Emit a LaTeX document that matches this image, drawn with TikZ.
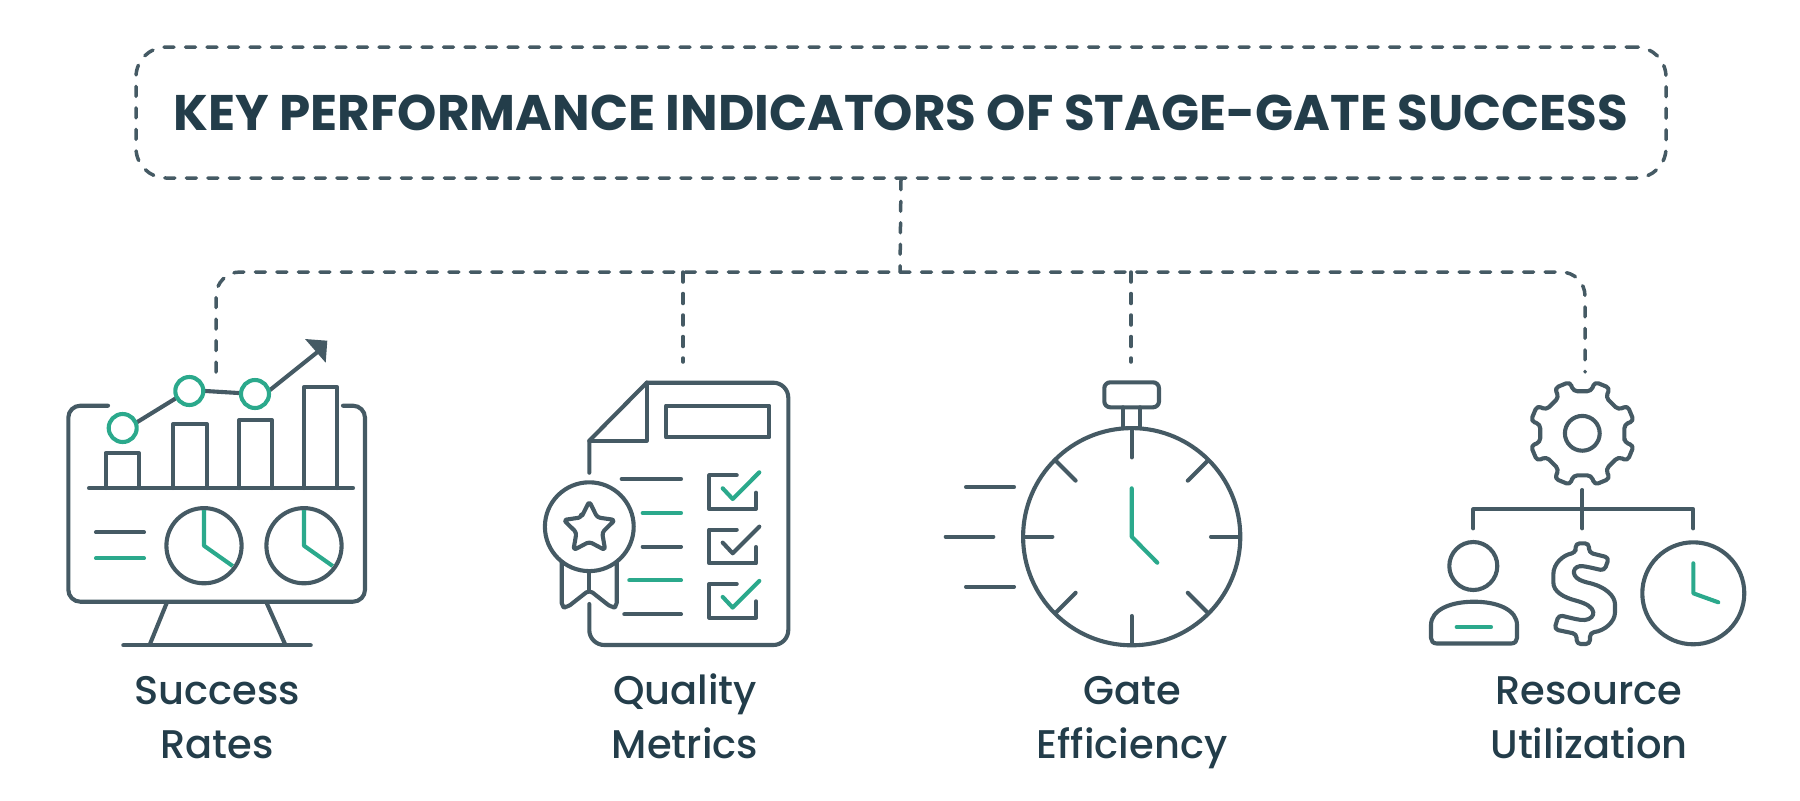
\documentclass[tikz,border=0pt]{standalone}
\usepackage{fontspec}
\setmainfont{Poppins}
\newfontfamily\kpimedium{Poppins}[UprightFont=* Medium]
\definecolor{kpiline}{HTML}{455A64}
\definecolor{kpitext}{HTML}{233D4A}
\definecolor{kpigreen}{HTML}{2BA98C}
\tikzset{
  iconline/.style={draw=kpiline, line width=2.05pt, line cap=round, line join=round},
  iconaccent/.style={draw=kpigreen, line width=2.05pt, line cap=round, line join=round},
  kpidash/.style={draw=kpiline, line width=1.75pt, line cap=round, dash pattern=on 5pt off 5.75pt},
  kpilabel/.style={text=kpitext, font=\kpimedium\fontsize{20}{27}\selectfont, align=center},
}

\begin{document}
\begin{tikzpicture}[x=0.5pt, y=-0.5pt]
    \useasboundingbox (0,0) rectangle (1800,800);
    \node[kpidash, rounded corners=15pt, minimum width=765pt, minimum height=65.5pt, text=kpitext,
        font=\bfseries\fontsize{25}{30}\selectfont] (kpibox) at (901,112.5) {KEY PERFORMANCE INDICATORS OF STAGE-GATE SUCCESS};
    \coordinate (hub) at (900,272);
    \coordinate (ratesend) at (216,372);
    \coordinate (qualityend) at (683,362);
    \coordinate (gateend) at (1131,362);
    \coordinate (resourceend) at (1585,372);
    \draw[kpidash] (kpibox.south) -- (hub);
    \draw[kpidash, rounded corners=12pt] (ratesend) |- (hub);
    \draw[kpidash, rounded corners=12pt] (hub) -| (resourceend);
    \draw[kpidash] (hub -| qualityend) -- (qualityend);
    \draw[kpidash] (hub -| gateend) -- (gateend);

    \draw[iconline, rounded corners=6pt] (108,405.7) -- (68.3,405.7) -- (68.3,601.7) -- (365,601.7) -- (365,405.7) -- (343,405.7);
    \draw[iconline] (89,488) -- (353,488);
    \draw[iconline] (105.7,488) -- (105.7,453) -- (139,453) -- (139,488);
    \draw[iconline] (173.3,488) -- (173.3,424) -- (206.7,424) -- (206.7,488);
    \draw[iconline] (239,488) -- (239,420) -- (271.7,420) -- (271.7,488);
    \draw[iconline] (304.3,488) -- (304.3,386.7) -- (336.7,386.7) -- (336.7,488);
    \draw[iconline] (122.7,431) -- (189.3,390) -- (255,394);
    \draw[iconline] (255,402) -- (320,350);
    \fill[kpiline] (305,339) -- (327.3,340.7) -- (325.7,362.7) -- cycle;
    \foreach \cx/\cy in {122.7/428, 189.3/391, 255/394}{
        \draw[iconaccent, fill=white] (\cx,\cy) circle[radius=7pt];
    }
    \foreach \cx in {204,304}{
        \draw[iconline] (\cx,545.7) circle[radius=18.8pt];
        \draw[iconaccent, line cap=butt] (\cx,510) -- (\cx,545.7) -- (\cx+28.7,566);
    }
    \draw[iconline] (96,532.3) -- (144,532.3);
    \draw[iconaccent] (96,558.3) -- (144,558.3);
    \draw[iconline] (166.7,603) -- (150,644);
    \draw[iconline] (266.7,603) -- (285,644);
    \draw[iconline] (123.3,645.3) -- (310.7,645.3);

    \draw[iconline] (589.3,472.7) -- (589.3,440.7) -- (646.7,382.7);
    \draw[iconline, rounded corners=7.5pt] (646.7,382.7) -- (788.3,382.7) -- (788.3,645) -- (589.3,645) -- (589.3,604);
    \draw[iconline] (646.7,382.7) -- (646.7,440.7) -- (589.3,440.7);
    \draw[iconline] (666,405.7) rectangle (769.3,437.3);
    \foreach \lx/\ly/\lstyle in {621.7/479/iconline, 642.7/513/iconaccent, 642.7/546.7/iconline, 629.3/580.3/iconaccent, 624.3/614.3/iconline}{
        \draw[\lstyle] (\lx,\ly) -- (681,\ly);
    }
    \foreach \by/\bstyle in {0/iconaccent, 54.3/iconline, 108.6/iconaccent}{
        \begin{scope}[shift={(0,\by)}]
            \draw[iconline] (736.7,475.3) -- (709.3,475.3) -- (709.3,509) -- (756,509) -- (756,492.7);
            \draw[\bstyle] (722.7,488.3) -- (732.7,499) -- (759.3,472.3);
        \end{scope}
    }
    \draw[iconline] (589.3,526.7) circle[radius=22.2pt];
    \draw[iconline, rounded corners=2pt] (561.7,561.7) -- (561.7,607) -- (567,607.5) -- (589.3,590) -- (611.5,607.5) -- (616.7,607) -- (616.7,561.7);
    \draw[iconline] (589.3,571.7) -- (589.3,590);
    \begin{scope}[shift={(589.3,528.3)}]
        \draw[iconline, rounded corners=1.5pt] (-126:13.5) \foreach \a in {0,72,...,288}{ -- (\a-90:27) -- (\a-54:13.5)} -- cycle;
    \end{scope}

    \begin{scope}[shift={(1131.7,536.7)}]
        \draw[iconline] (0,0) circle[radius=54.3pt];
        \foreach \a in {0,45,...,315}{
            \draw[iconline] (\a:108) -- (\a:79.3);
        }
        \draw[iconaccent] (0,-48.4) -- (0,0) -- (25.6,26);
    \end{scope}
    \draw[iconline] (966,487) -- (1014,487);
    \draw[iconline] (945.7,536.7) -- (993.3,536.7);
    \draw[iconline] (966,586.7) -- (1014,586.7);
    \draw[iconline, rounded corners=3pt] (1104.3,382.3) rectangle (1159,407.3);
    \draw[iconline] (1122.7,407.3) -- (1122.7,428);
    \draw[iconline] (1140.3,407.3) -- (1140.3,428);

    \begin{scope}[shift={(1582.3,433.3)}]
        \draw[iconline] (0,0) circle[radius=8.7pt];
        \draw[iconline, rounded corners=2pt] (12:43) \foreach \a in {22.5,67.5,...,337.5}{ -- (\a-10.5:43) -- (\a-9:53) -- (\a+9:53) -- (\a+10.5:43)} -- cycle;
    \end{scope}
    \draw[iconline] (1582.3,490) -- (1582.3,528.3);
    \draw[iconline] (1473.3,528.3) -- (1473.3,509.3) -- (1693.3,509.3) -- (1693.3,528.3);
    \draw[iconline] (1473.3,566) circle[radius=12pt];
    \draw[iconline] (1437,643.5) .. controls (1433,643.5) and (1431,641) .. (1431,638) -- (1431,625) .. controls (1431,610) and (1450,601.7) .. (1474,601.7) .. controls (1498,601.7) and (1517,610) .. (1517,625) -- (1517,638) .. controls (1517,641) and (1515,643.5) .. (1511,643.5) -- cycle;
    \draw[iconaccent] (1456.7,627) -- (1491,627);
    \begin{scope}[shift={(1410,360)}, scale=1/3]
        \draw[iconline, rounded corners=2pt] (497,578) -- (497,550) -- (537,550) -- (537,578) -- (597,593) -- (583,632) -- (530,620)
            .. controls (490,615) and (480,645) .. (520,665)
            .. controls (590,680) and (615,710) .. (615,745)
            .. controls (615,785) and (585,812) .. (540,818)
            -- (540,852) -- (500,852) -- (500,822) -- (433,808) -- (446,765) -- (500,778)
            .. controls (550,785) and (570,750) .. (510,725)
            .. controls (460,712) and (430,695) .. (430,655)
            .. controls (430,610) and (460,585) .. (497,578) -- cycle;
    \end{scope}
    \draw[iconline] (1693.3,593.3) circle[radius=25.5pt];
    \draw[iconaccent] (1693.3,563.3) -- (1693.3,593.3) -- (1718.3,602.3);

    \node[kpilabel] (ratestext) at (217,718) {Success\\Rates};
    \node[kpilabel] (qualitytext) at (685,716) {Quality\\Metrics};
    \node[kpilabel] (gatetext) at (1132,722.5) {Gate\\Efficiency};
    \node[kpilabel] (resourcetext) at (1589,718) {Resource\\Utilization};
\end{tikzpicture}
\end{document}
